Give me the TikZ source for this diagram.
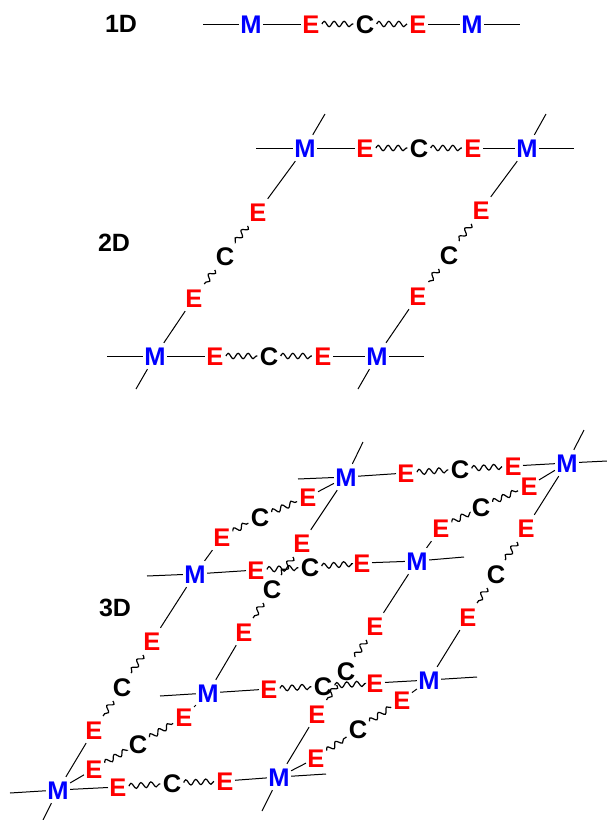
\documentclass[tikz,border=0pt]{standalone}
\usepackage{fontspec}
\setmainfont{Liberation Sans}
\usetikzlibrary{decorations.pathmorphing}
\tikzset{
    letter/.style={font=\fontsize{25.5}{25.5}\selectfont\bfseries, inner xsep=1pt, inner ysep=3.5pt, text height=18.3pt, text depth=0pt},
    metal/.style={letter, text=blue},
    ester/.style={letter, text=red},
    carbon/.style={letter, text=black},
    dimlabel/.style={font=\fontsize{25}{25}\selectfont\bfseries, inner sep=0pt},
    wave/.style={decorate, decoration={snake, segment length=10pt, amplitude=2.7pt}, shorten >=1pt, shorten <=1pt, line width=1.2pt}
}
\newcommand{\linker}[6]{%
    \node[ester] (#3a) at (#4) {E};%
    \node[carbon] (#3c) at (#5) {C};%
    \node[ester] (#3b) at (#6) {E};%
    \draw (#1) -- (#3a);%
    \draw[wave] (#3a) -- (#3c);%
    \draw[wave] (#3c) -- (#3b);%
    \draw (#3b) -- (#2);%
}
\newcommand{\stub}[3]{%
    \coordinate (#2) at (#3);%
    \draw (#1) -- (#2);%
}
\begin{document}
\begin{tikzpicture}[x=1pt, y=-1pt, line width=1pt]
        \useasboundingbox (0, 0) rectangle (607, 820);

        % Dimension labels
        \node[dimlabel] (one) at (121, 24) {1D};
        \node[dimlabel] (two) at (114, 243) {2D};
        \node[dimlabel] (three) at (115, 608) {3D};

        % --- 1D chain ---
        \node[metal] (pa) at (251, 24) {M};
        \node[metal] (pb) at (472, 24) {M};
        \linker{pa}{pb}{pl}{311, 24}{365, 24}{418, 24}
        \stub{pa}{pafree}{203, 24}
        \stub{pb}{pbfree}{520, 24}

        % --- 2D sheet ---
        \node[metal] (qa) at (305, 148) {M};
        \node[metal] (qb) at (527, 148) {M};
        \node[metal] (qc) at (155, 356) {M};
        \node[metal] (qd) at (377, 356) {M};
        \linker{qa}{qb}{qt}{365, 148}{419, 148}{473, 148}
        \linker{qc}{qd}{qu}{215, 356}{269, 356}{323, 356}
        \linker{qa}{qc}{qv}{258, 212}{225, 256}{194, 298}
        \linker{qb}{qd}{qw}{481, 210}{449, 255}{418, 296}
        \stub{qa}{qafree}{256, 148}
        \stub{qa}{qatop}{325, 114}
        \stub{qb}{qbfree}{574, 148}
        \stub{qb}{qbtop}{546, 114}
        \stub{qc}{qcfree}{107, 356}
        \stub{qc}{qcbot}{136, 389}
        \stub{qd}{qdfree}{424, 356}
        \stub{qd}{qdbot}{358, 389}

        % --- 3D framework ---
        \node[metal] (ra) at (346, 477) {M};
        \node[metal] (rb) at (567, 463) {M};
        \node[metal] (rc) at (195, 574) {M};
        \node[metal] (rd) at (417, 561) {M};
        \node[metal] (re) at (208, 693) {M};
        \node[metal] (rf) at (429, 680) {M};
        \node[metal] (rg) at (58, 790) {M};
        \node[metal] (rh) at (279, 777) {M};

        % rows
        \linker{ra}{rb}{ab}{406, 473}{460, 469}{513, 466}
        \linker{rc}{rd}{cd}{256, 570}{310, 567}{362, 563}
        \linker{re}{rf}{ef}{269, 689}{323, 686}{375, 683}
        \linker{rg}{rh}{gh}{118, 787}{172, 783}{225, 781}

        % rear to front
        \linker{rc}{ra}{ca}{222, 537}{260, 517}{308, 497}
        \linker{rd}{rb}{db}{441, 528}{481, 507}{529, 486}
        \linker{rg}{re}{ge}{94, 769}{138, 744}{184, 717}
        \linker{rh}{rf}{hf}{316, 758}{358, 729}{402, 700}

        % top to bottom
        \linker{ra}{re}{ae}{302, 543}{272, 589}{244, 632}
        \linker{rb}{rf}{bf}{526, 528}{496, 574}{468, 617}
        \linker{rc}{rg}{cg}{152, 641}{122, 687}{94, 730}
        \linker{rd}{rh}{dh}{375, 626}{346, 671}{317, 714}

        % open ends
        \stub{ra}{rafree}{298, 479}
        \stub{ra}{ratop}{363, 442}
        \stub{rb}{rbfree}{607, 461}
        \stub{rb}{rbtop}{584, 430}
        \stub{rc}{rcfree}{147, 576}
        \stub{rd}{rdfree}{464, 557}
        \stub{re}{refree}{160, 696}
        \stub{rf}{rffree}{477, 677}
        \stub{rg}{rgfree}{10, 793}
        \stub{rg}{rgbot}{43, 820}
        \stub{rh}{rhfree}{326, 774}
        \stub{rh}{rhbot}{262, 811}

    \end{tikzpicture}
\end{document}
